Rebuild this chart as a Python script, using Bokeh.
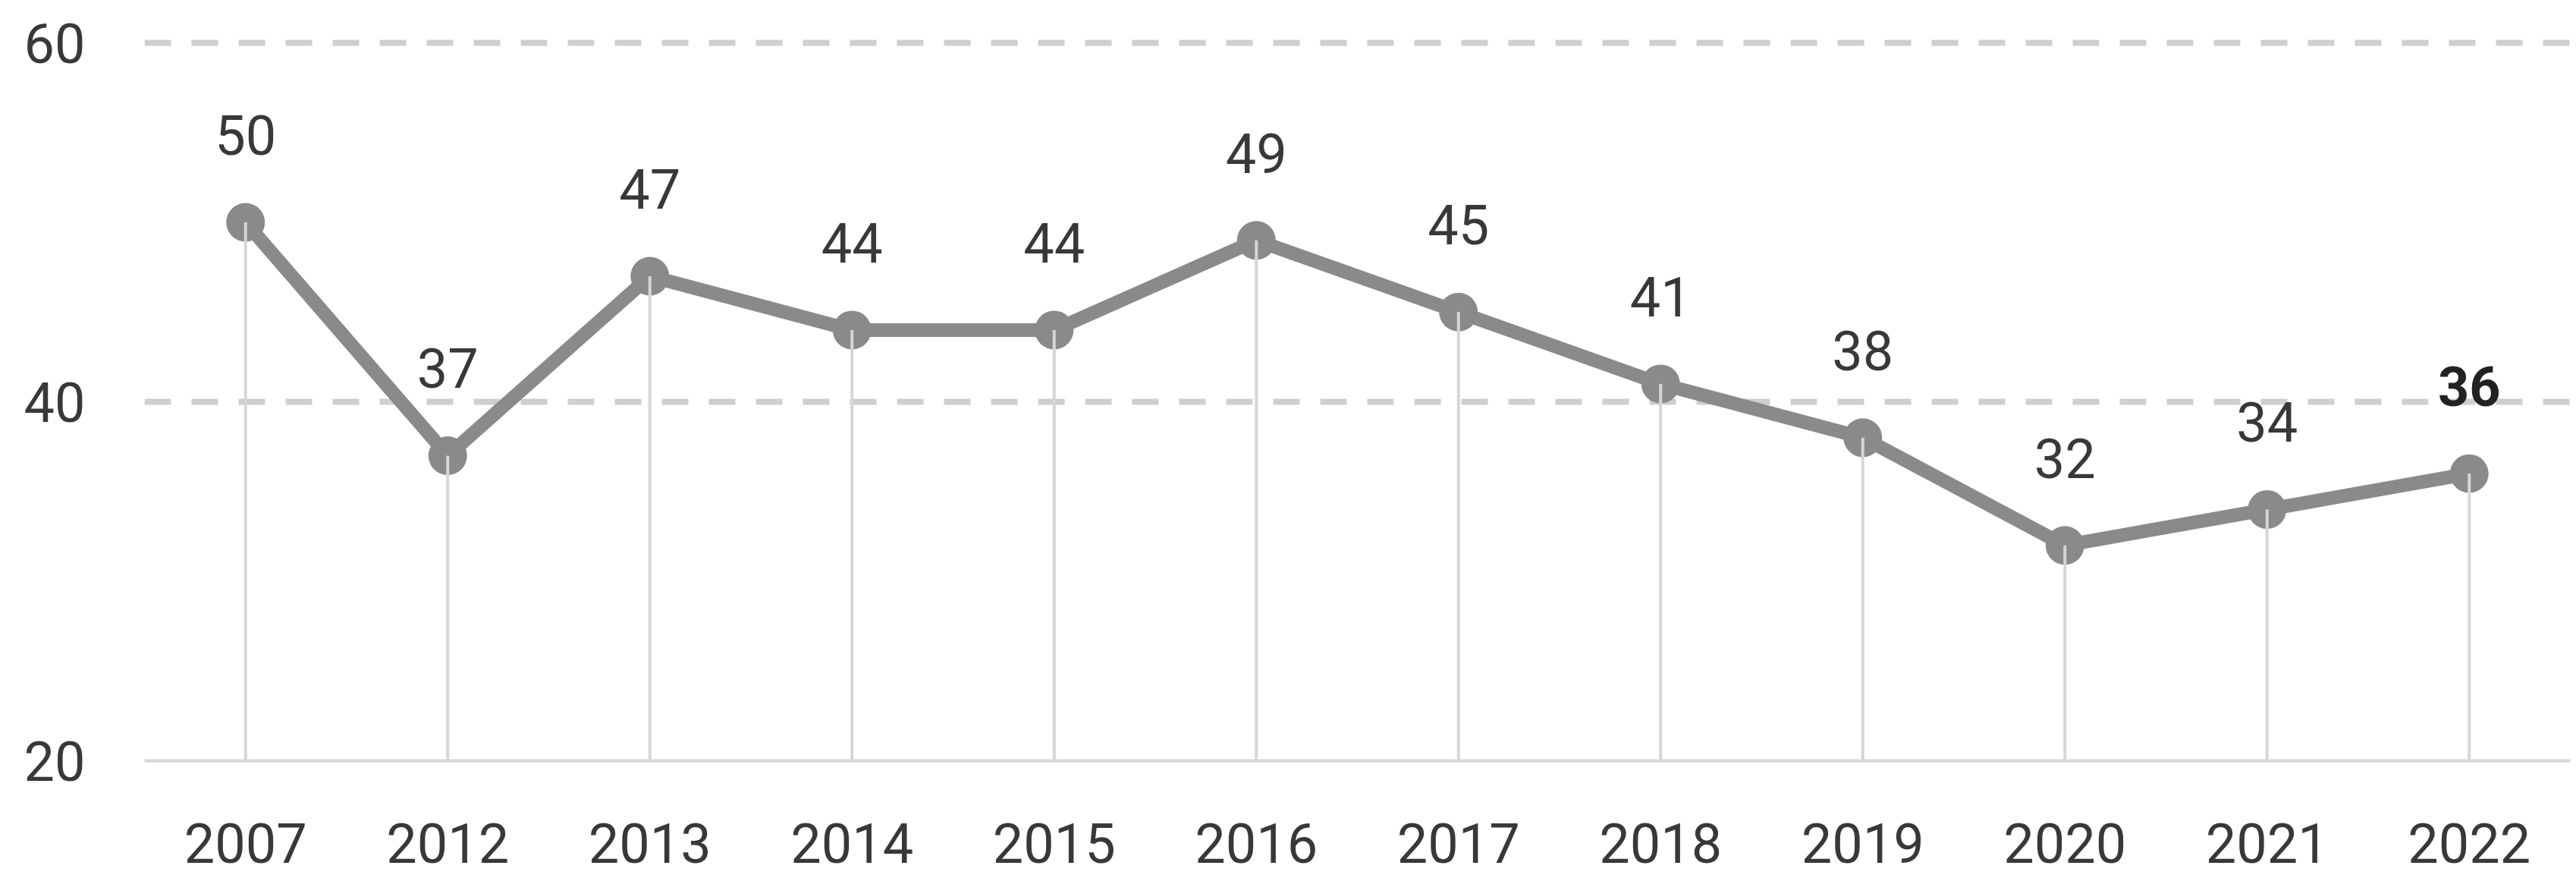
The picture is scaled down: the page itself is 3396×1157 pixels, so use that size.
from bokeh.plotting import figure
from bokeh.models import FactorRange, Range1d, FixedTicker, ColumnDataSource
from bokeh.core.properties import value
from bokeh.embed import file_html
from bokeh.resources import INLINE

years = ["2007", "2012", "2013", "2014", "2015", "2016", "2017", "2018", "2019", "2020", "2021", "2022"]
values = [50, 37, 47, 44, 44, 49, 45, 41, 38, 32, 34, 36]
y_ticks = [20, 40, 60]
grid_ticks = [40, 60]
Y_MIN, Y_MAX = 20, 62.37

FONT = "Roboto"
TEXT_COLOR = "#383838"
LINE_COLOR = "#8a8a8a"
LIGHT = "#d6d6d6"

p = figure(
    x_range=FactorRange(*years),
    y_range=Range1d(Y_MIN, Y_MAX),
    width=3390, height=1157,
    output_backend="svg", toolbar_location=None,
    min_border_left=190, min_border_right=2, min_border_top=0, min_border_bottom=155,
)
p.outline_line_color = None
p.background_fill_color = "white"
p.border_fill_color = "white"

# grids
p.xgrid.grid_line_color = None
p.ygrid.ticker = FixedTicker(ticks=grid_ticks)
p.ygrid.grid_line_color = "#cfcfcf"
p.ygrid.grid_line_width = 8
p.ygrid.grid_line_dash = "35 27"

# y axis
p.yaxis.ticker = FixedTicker(ticks=y_ticks)
p.yaxis.axis_line_color = None
p.yaxis.major_tick_line_color = None
p.yaxis.minor_tick_line_color = None
p.yaxis.major_tick_out = 0
p.yaxis.major_label_standoff = 78
p.yaxis.major_label_text_font = FONT
p.yaxis.major_label_text_font_size = "72px"
p.yaxis.major_label_text_color = TEXT_COLOR

# x axis
p.xaxis.axis_line_color = LIGHT
p.xaxis.axis_line_width = 4
p.xaxis.major_tick_line_color = None
p.xaxis.minor_tick_line_color = None
p.xaxis.major_tick_out = 0
p.xaxis.major_label_standoff = 82
p.xaxis.major_label_text_font = FONT
p.xaxis.major_label_text_font_size = "72px"
p.xaxis.major_label_text_color = TEXT_COLOR

src = ColumnDataSource(dict(x=years, y=values, base=[Y_MIN] * len(years)))

p.line("x", "y", source=src, line_color=LINE_COLOR, line_width=18, line_join="round")
p.scatter("x", "y", source=src, size=51, fill_color=LINE_COLOR, line_color=None)
p.segment(x0="x", y0="y", x1="x", y1="base", source=src, line_color=LIGHT, line_width=4)

n = len(years)
src_norm = ColumnDataSource(dict(x=years[:n - 1], y=values[:n - 1], lbl=[str(v) for v in values[:n - 1]]))
src_last = ColumnDataSource(dict(x=years[n - 1:], y=values[n - 1:], lbl=[str(v) for v in values[n - 1:]]))

p.text("x", "y", text="lbl", source=src_norm, y_offset=-115, text_align="center",
       text_baseline="alphabetic", text_font=value(FONT), text_font_size="72px",
       text_color=TEXT_COLOR)
p.text("x", "y", text="lbl", source=src_last, y_offset=-115, text_align="center",
       text_baseline="alphabetic", text_font=value(FONT), text_font_size="72px",
       text_font_style="bold", text_color="#222222")

open("out.html", "w").write(file_html(p, INLINE))
